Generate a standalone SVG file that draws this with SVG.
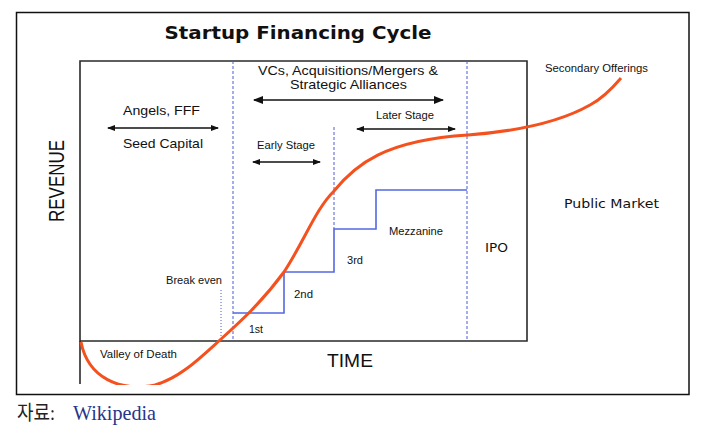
<svg xmlns="http://www.w3.org/2000/svg" width="701" height="436" viewBox="0 0 701 436">
<style>
.lbl{font-family:"Liberation Sans",Arial,sans-serif;fill:#111;}
.sm{font-size:10.5px;}
.dj{font-family:"DejaVu Sans",Verdana,sans-serif;fill:#111;}
.arr{stroke:#111;stroke-width:1.3;fill:none;}
.dash{stroke:#4a5ad8;stroke-width:1;stroke-dasharray:3,2;fill:none;}
</style>
<defs>
<marker id="ah" markerWidth="10" markerHeight="8" refX="9" refY="4" orient="auto-start-reverse" markerUnits="userSpaceOnUse"><path d="M0,0 L10,4 L0,8 Z" fill="#111"/></marker>
<marker id="ahs" markerWidth="8" markerHeight="6" refX="7" refY="3" orient="auto-start-reverse" markerUnits="userSpaceOnUse"><path d="M0,0 L8,3 L0,6 Z" fill="#111"/></marker>
<clipPath id="cp"><rect x="0" y="0" width="701" height="385"/></clipPath>
</defs>
<rect width="701" height="436" fill="#fff"/>
<g id="frame"><rect x="16.5" y="12.5" width="672.5" height="382" fill="none" stroke="#111" stroke-width="1.5"/></g>
<g id="title"><text class="dj" x="298" y="39" font-size="18" font-weight="bold" text-anchor="middle" textLength="267" lengthAdjust="spacingAndGlyphs">Startup Financing Cycle</text></g>
<g id="chart-box">
<path d="M80,61 H527 V341 H80 Z" fill="none" stroke="#2a2a2a" stroke-width="1.6"/>
<line x1="80" y1="341" x2="80" y2="384" stroke="#2a2a2a" stroke-width="1.6"/>
</g>
<g id="connectors">
<line class="dash" x1="233" y1="61" x2="233" y2="341"/>
<line class="dash" x1="467" y1="61" x2="467" y2="341"/>
<line class="dash" x1="334" y1="127" x2="334" y2="229"/>
<line x1="221" y1="290" x2="221" y2="340" stroke="#4a5ad8" stroke-width="1" stroke-dasharray="1,2"/>
<path d="M233,313 H284 V272 H334 V229 H376 V190 H467" fill="none" stroke="#5468e0" stroke-width="1.6"/>
<line class="arr" x1="254" y1="100" x2="443" y2="100" stroke-width="1.8" marker-start="url(#ah)" marker-end="url(#ah)"/>
<line class="arr" x1="108" y1="128" x2="218" y2="128" marker-start="url(#ahs)" marker-end="url(#ahs)"/>
<line class="arr" x1="253" y1="162" x2="320" y2="162" marker-start="url(#ahs)" marker-end="url(#ahs)"/>
<line class="arr" x1="357" y1="129" x2="455" y2="129" marker-start="url(#ahs)" marker-end="url(#ahs)"/>
<path clip-path="url(#cp)" d="M81,342 C88,378 120,392 155,385 C180,378 200,358 220,340 C240,322 262,302 284,272 C305,240 315,210 334,191 C355,165 385,140 468,135 C520,131 560,122 590,105 C605,97 615,85 621,78" fill="none" stroke="#f4511e" stroke-width="3"/>
</g>
<g id="labels">
<text class="lbl" x="348" y="75" font-size="13" text-anchor="middle" textLength="180" lengthAdjust="spacingAndGlyphs">VCs, Acquisitions/Mergers &amp;</text>
<text class="lbl" x="348.5" y="89" font-size="13" text-anchor="middle" textLength="117" lengthAdjust="spacingAndGlyphs">Strategic Alliances</text>
<text class="lbl" x="161.5" y="115" font-size="13" text-anchor="middle" textLength="77" lengthAdjust="spacingAndGlyphs">Angels, FFF</text>
<text class="lbl" x="163" y="148" font-size="13" text-anchor="middle" textLength="80" lengthAdjust="spacingAndGlyphs">Seed Capital</text>
<text class="lbl sm" x="286" y="149" text-anchor="middle" textLength="58" lengthAdjust="spacingAndGlyphs">Early Stage</text>
<text class="lbl sm" x="405" y="119" text-anchor="middle" textLength="58" lengthAdjust="spacingAndGlyphs">Later Stage</text>
<text class="lbl sm" x="596.5" y="72" text-anchor="middle" textLength="103" lengthAdjust="spacingAndGlyphs">Secondary Offerings</text>
<text class="dj" x="564" y="208" font-size="13" textLength="95" lengthAdjust="spacingAndGlyphs">Public Market</text>
<text class="dj" x="485" y="252" font-size="13" textLength="23" lengthAdjust="spacingAndGlyphs">IPO</text>
<text class="lbl sm" x="389" y="235" textLength="54" lengthAdjust="spacingAndGlyphs">Mezzanine</text>
<text class="lbl sm" x="347" y="264" textLength="16" lengthAdjust="spacingAndGlyphs">3rd</text>
<text class="lbl sm" x="294" y="298" textLength="19" lengthAdjust="spacingAndGlyphs">2nd</text>
<text class="lbl sm" x="249" y="333" textLength="14" lengthAdjust="spacingAndGlyphs">1st</text>
<text class="lbl sm" x="166" y="284" textLength="56" lengthAdjust="spacingAndGlyphs">Break even</text>
<text class="lbl sm" x="100" y="358" textLength="77" lengthAdjust="spacingAndGlyphs">Valley of Death</text>
<text class="lbl" x="327" y="367" font-size="18" textLength="46" lengthAdjust="spacingAndGlyphs">TIME</text>
<text class="lbl" font-size="18" text-anchor="middle" textLength="82" lengthAdjust="spacingAndGlyphs" transform="translate(63.5,181) scale(1.2,1) rotate(-90)">REVENUE</text>
</g>
<g id="source">
<text x="17" y="420" font-size="20" font-family="'Liberation Serif','Noto Sans CJK KR',serif" fill="#222" textLength="38" lengthAdjust="spacingAndGlyphs">자료:</text>
<text x="73" y="420" font-size="21" font-family="'Liberation Serif',serif" fill="#27358a" textLength="83" lengthAdjust="spacingAndGlyphs">Wikipedia</text>
</g>
</svg>
